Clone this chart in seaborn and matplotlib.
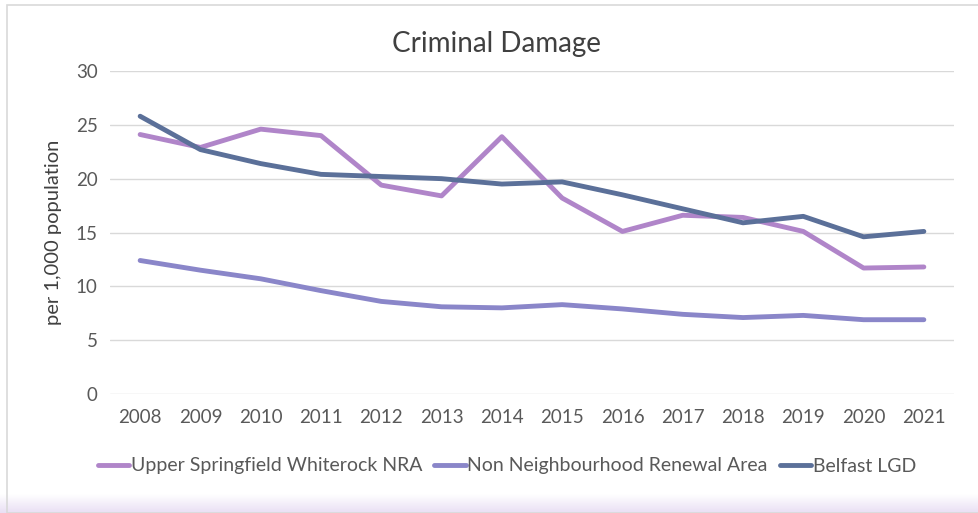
import numpy as np
import pandas as pd
import matplotlib
matplotlib.use("Agg")
import matplotlib.pyplot as plt
import seaborn as sns
from matplotlib.patches import Rectangle

years = list(range(2008, 2022))
upper_springfield = [24.1, 22.9, 24.6, 24.0, 19.4, 18.4, 23.9, 18.2, 15.1, 16.6, 16.4, 15.1, 11.7, 11.8]
non_nra = [12.4, 11.5, 10.7, 9.6, 8.6, 8.1, 8.0, 8.3, 7.9, 7.4, 7.1, 7.3, 6.9, 6.9]
belfast = [25.8, 22.7, 21.4, 20.4, 20.2, 20.0, 19.5, 19.7, 18.5, 17.2, 15.9, 16.5, 14.6, 15.1]

series_names = ["Upper Springfield Whiterock NRA", "Non Neighbourhood Renewal Area", "Belfast LGD"]
colors = ["#B085C9", "#8A86C9", "#5B7099"]

data = pd.DataFrame({
    "Year": years * 3,
    "Value": upper_springfield + non_nra + belfast,
    "Series": [series_names[0]] * 14 + [series_names[1]] * 14 + [series_names[2]] * 14,
})
data["Year"] = data["Year"].astype(str)

sns.set_style("white")
plt.rcParams['font.family'] = ['Lato', 'DejaVu Sans']

fig = plt.figure(figsize=(9.79, 5.13), dpi=100)
ax = fig.add_axes([110 / 979, 1 - 394 / 513, (954 - 110) / 979, (394 - 71) / 513])

sns.lineplot(data=data, x="Year", y="Value", hue="Series", palette=colors,
             linewidth=3.5, ax=ax, sort=False)

ax.set_ylim(0, 30)
ax.set_xlim(-0.5, 13.5)
ax.set_yticks(range(0, 31, 5))
ax.yaxis.grid(True, color="#D9D9D9", linewidth=1)
ax.set_axisbelow(True)
for s in ax.spines.values():
    s.set_visible(False)
ax.tick_params(axis="both", length=0, labelsize=13.5, colors="#595959")
ax.tick_params(axis="x", pad=11)
ax.tick_params(axis="y", pad=9)
ax.set_xlabel("")
ax.set_ylabel("per 1,000 population", fontsize=14.5, color="#404040", labelpad=10)
fig.text(497 / 979, 1 - 44 / 513, "Criminal Damage", fontsize=20, color="#404040",
         ha="center", va="center")

ax.legend(loc="center", bbox_to_anchor=(507 / 979, 1 - 466 / 513), bbox_transform=fig.transFigure,
          ncol=3, frameon=False, fontsize=14, handlelength=1.6, handletextpad=0.1,
          columnspacing=0.6, labelcolor="#595959")

# chart border and bottom band
fig.patches.append(Rectangle((7 / 979, 0.0), 1.2, 1 - 5 / 513, transform=fig.transFigure,
                             fill=False, edgecolor="#D9D9D9", linewidth=1.2))
band = np.linspace(0, 1, 50).reshape(-1, 1)
bax = fig.add_axes([0, 0, 1, 19 / 513])
bax.imshow(band, aspect="auto", cmap=matplotlib.colors.LinearSegmentedColormap.from_list(
    "b", ["#FFFFFF", "#E9DFF4"]), origin="upper")
bax.axis("off")

fig.savefig("out.png", dpi=100)
